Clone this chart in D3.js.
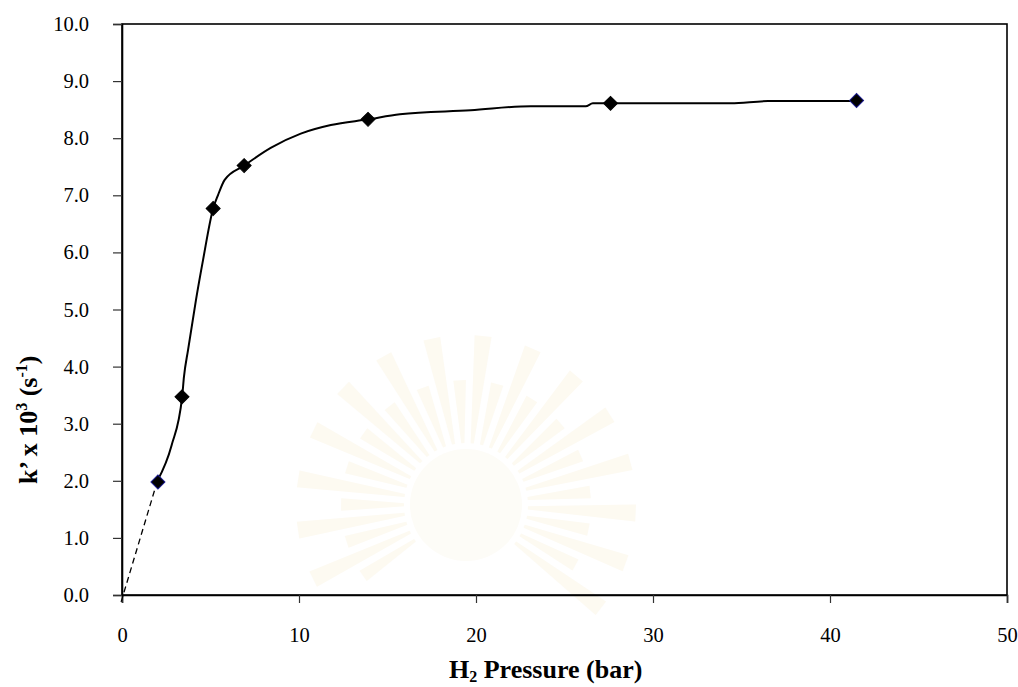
<!DOCTYPE html>
<html>
<head>
<meta charset="utf-8">
<script src="https://cdn.jsdelivr.net/npm/d3@7"></script>
<style>
body { margin: 0; background: #fff; }
text { font-family: "Liberation Serif", "Times New Roman", serif; fill: #000; }
</style>
</head>
<body>
<div id="chart"></div>
<script>
// measured points (H2 pressure in bar, k' x 10^3 in 1/s)
var pressure = [2.03, 3.39, 5.15, 6.9, 13.9, 27.6, 41.5];
var rate = [1.98, 3.47, 6.77, 7.52, 8.33, 8.61, 8.66];

// hand-drawn guide curve
var curveX = [2.0, 2.8, 3.4, 3.5, 3.73, 4.18, 4.58, 5.15, 5.42, 5.8, 6.9, 8.4, 10.1, 11.8, 13.9, 15.7, 19.7, 23.1, 26.2, 26.6, 27.6, 34.4, 36.5, 41.5];
var curveY = [2.0, 2.62, 3.48, 3.82, 4.29, 5.17, 5.87, 6.77, 7.0, 7.27, 7.52, 7.83, 8.08, 8.23, 8.33, 8.42, 8.49, 8.56, 8.56, 8.61, 8.61, 8.61, 8.65, 8.65];

// dashed extrapolation to origin
var dashX = [-0.05, 2.0];
var dashY = [-0.12, 2.0];

var xTicks = [0, 10, 20, 30, 40, 50];
var yTicks = [0, 1, 2, 3, 4, 5, 6, 7, 8, 9, 10];

var width = 1018, height = 687;
var pLeft = 122, pRight = 1007, pTop = 24, pBottom = 595;

var svg = d3.select('#chart')
	.append('svg')
	.attr('width', width)
	.attr('height', height);

// faint watermark emblem behind the plot
var wm = svg.append('g')
	.attr('transform', 'translate(466,505)')
	.attr('fill', '#fcf6e4')
	.attr('opacity', 0.5);
for (var i = 0; i < 30; i++) {
	var a0 = Math.PI * (0.8 + i * 1.4 / 29);
	var a1 = a0 + 0.05;
	var r0 = 62, r1 = 125 + (i % 2) * 45;
	var pts = [[r0 * Math.cos(a0), r0 * Math.sin(a0)], [r1 * Math.cos(a0 - 0.025), r1 * Math.sin(a0 - 0.025)],
		[r1 * Math.cos(a1 + 0.025), r1 * Math.sin(a1 + 0.025)], [r0 * Math.cos(a1), r0 * Math.sin(a1)]];
	wm.append('path').attr('d', 'M' + pts.join('L') + 'Z');
}
wm.append('circle').attr('r', 56).attr('fill', '#fdfaf0');

var x = d3.scaleLinear().domain([0, 50]).range([pLeft, pRight]);
var y = d3.scaleLinear().domain([0, 10]).range([pBottom, pTop]);

// plot frame
svg.append('rect')
	.attr('x', pLeft).attr('y', pTop)
	.attr('width', pRight - pLeft).attr('height', pBottom - pTop)
	.attr('fill', 'none')
	.attr('stroke', '#000')
	.attr('stroke-width', 1.6);

var xAxis = svg.append('g')
	.attr('transform', 'translate(0,' + pBottom + ')')
	.call(d3.axisBottom(x).tickValues(xTicks).tickSize(8).tickPadding(24).tickFormat(d3.format('d')));
var yAxis = svg.append('g')
	.attr('transform', 'translate(' + pLeft + ',0)')
	.call(d3.axisLeft(y).tickValues(yTicks).tickSize(9).tickPadding(24).tickFormat(d3.format('.1f')));

[xAxis, yAxis].forEach(function(ax){
	ax.select('.domain').attr('stroke', '#000').attr('stroke-width', 1.6);
	ax.selectAll('.tick line').attr('stroke', '#333').attr('stroke-width', 1.2);
	ax.selectAll('.tick text')
		.attr('font-family', '"Liberation Serif", serif')
		.attr('font-size', 20.5)
		.attr('fill', '#000');
});

// dashed line to origin
var line = d3.line()
	.x(function(d){ return x(d[0]); })
	.y(function(d){ return y(d[1]); });

svg.append('path')
	.attr('d', line(dashX.map(function(v, i){ return [v, dashY[i]]; })))
	.attr('fill', 'none')
	.attr('stroke', '#000')
	.attr('stroke-width', 1.3)
	.attr('stroke-dasharray', '6,4');

// guide curve
svg.append('path')
	.attr('d', line.curve(d3.curveMonotoneX)(curveX.map(function(v, i){ return [v, curveY[i]]; })))
	.attr('fill', 'none')
	.attr('stroke', '#000')
	.attr('stroke-width', 2);

// diamond markers
var diamond = d3.symbol().type(d3.symbolSquare).size(98);
svg.append('g')
	.selectAll('path')
	.data(pressure)
	.enter()
	.append('path')
	.attr('d', diamond)
	.attr('transform', function(d, i){ return 'translate(' + x(d) + ',' + y(rate[i]) + ') rotate(45)'; })
	.attr('fill', '#000')
	.attr('stroke', function(d, i){ return (i == 0 || i == pressure.length - 1) ? '#1a1a8c' : '#000'; })
	.attr('stroke-width', 1);

// axis titles
var xt = svg.append('text')
	.attr('x', 449)
	.attr('y', 678)
	.attr('text-anchor', 'start')
	.attr('font-weight', 'bold')
	.attr('font-size', 26);
xt.append('tspan').text('H');
xt.append('tspan').attr('font-size', 16).attr('dy', 4).text('2');
xt.append('tspan').attr('dy', -4).text(' Pressure (bar)');

var yt = svg.append('text')
	.attr('transform', 'translate(37,484) rotate(-90)')
	.attr('text-anchor', 'start')
	.attr('font-weight', 'bold')
	.attr('font-size', 26);
yt.append('tspan').text('k’ x 10');
yt.append('tspan').attr('font-size', 16).attr('dy', -10).text('3');
yt.append('tspan').attr('dy', 10).text(' (s');
yt.append('tspan').attr('font-size', 16).attr('dy', -10).text('-1');
yt.append('tspan').attr('dy', 10).text(')');
</script>
</body>
</html>
